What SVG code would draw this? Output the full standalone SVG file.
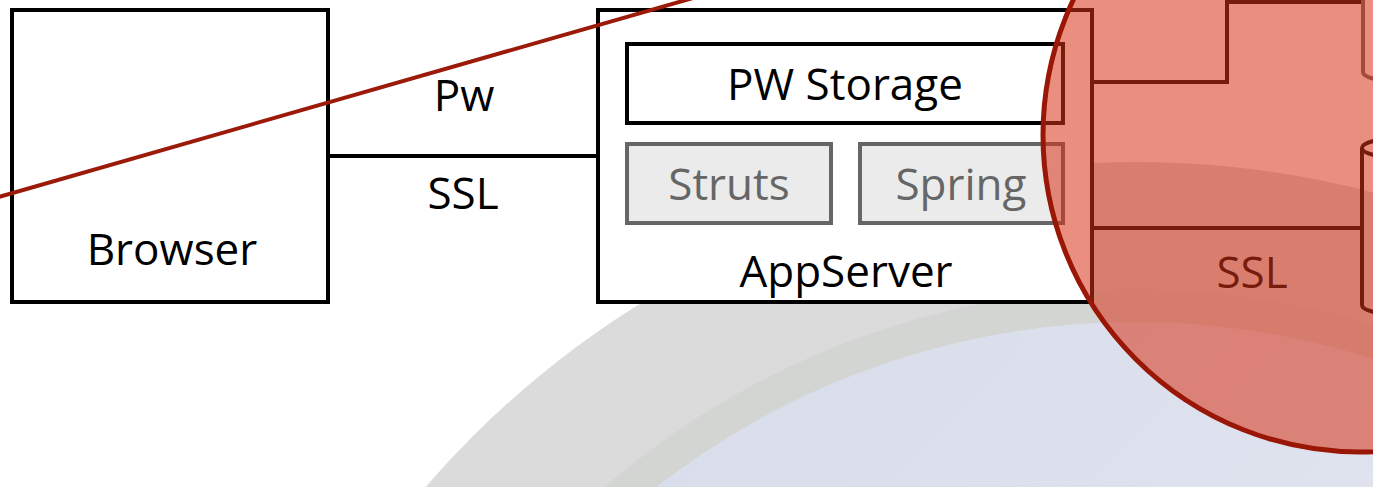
<svg xmlns="http://www.w3.org/2000/svg" width="1373" height="487" viewBox="0 0 1373 487">
<style>
.box{fill:#fff;stroke:#000;stroke-width:4}
.gbox{fill:#ebebeb;stroke:#666;stroke-width:4}
.t{font-family:"Open Sans","Liberation Sans",sans-serif;font-size:44px;text-anchor:middle;fill:#000}
.gt{fill:#666}
.ln{fill:none;stroke:#000;stroke-width:4}
.gl{fill:none;stroke:#666;stroke-width:4}
</style>
<defs>
<linearGradient id="blue" x1="0" y1="0" x2="1" y2="1">
<stop offset="0" stop-color="#d6dbea"/>
<stop offset="1" stop-color="#eef0f5"/>
</linearGradient>
<linearGradient id="grayOuter" x1="0" y1="0" x2="1" y2="1">
<stop offset="0" stop-color="#dcdcdc"/>
<stop offset="1" stop-color="#d6d6d6"/>
</linearGradient>
</defs>
<rect width="1373" height="487" fill="#fff"/>
<g id="background">
<circle cx="1136" cy="1101" r="939" fill="url(#grayOuter)"/>
<circle cx="1136" cy="1101" r="812" fill="#d3d5d3"/>
<circle cx="1136" cy="1101" r="779" fill="url(#blue)"/>
</g>
<g id="connectors">
<line class="ln" x1="328" y1="156" x2="598" y2="156"/>
<text class="t" x="464" y="111">Pw</text>
<text class="t" x="463" y="209">SSL</text>
<path class="ln" d="M1092,82 H1227 V2 H1363"/>
<line class="ln" x1="1092" y1="228" x2="1362" y2="228"/>
<text class="t" x="1252" y="288">SSL</text>
</g>
<g id="browser">
<rect class="box" x="12" y="10" width="316" height="292"/>
<text class="t" x="172" y="265">Browser</text>
</g>
<g id="appserver">
<rect class="box" x="598" y="10" width="494" height="292"/>
<text class="t" x="846" y="287">AppServer</text>
</g>
<g id="pw-storage">
<rect class="box" x="627" y="44" width="436" height="79"/>
<text class="t" x="845" y="100">PW Storage</text>
</g>
<g id="struts">
<rect class="gbox" x="627" y="144" width="204" height="79"/>
<text class="t gt" x="729" y="200">Struts</text>
</g>
<g id="spring">
<rect class="gbox" x="860" y="144" width="203" height="79"/>
<text class="t gt" x="961" y="200">Spring</text>
</g>
<g id="db-upper">
<path class="gl" d="M1363,-10 V72 A40,10 0 0 0 1403,82"/>
</g>
<g id="db-lower">
<path class="ln" d="M1362,148 V305 A40,10 0 0 0 1442,305 V148"/>
<ellipse class="ln" cx="1402" cy="148" rx="40" ry="10"/>
</g>
<g id="highlight">
<circle cx="1360" cy="135" r="317" fill="rgb(217,51,24)" fill-opacity="0.55" stroke="#9a1606" stroke-width="5"/>
<line x1="-5" y1="198" x2="700" y2="-4" stroke="#9b1a0a" stroke-width="4"/>
</g>
</svg>
